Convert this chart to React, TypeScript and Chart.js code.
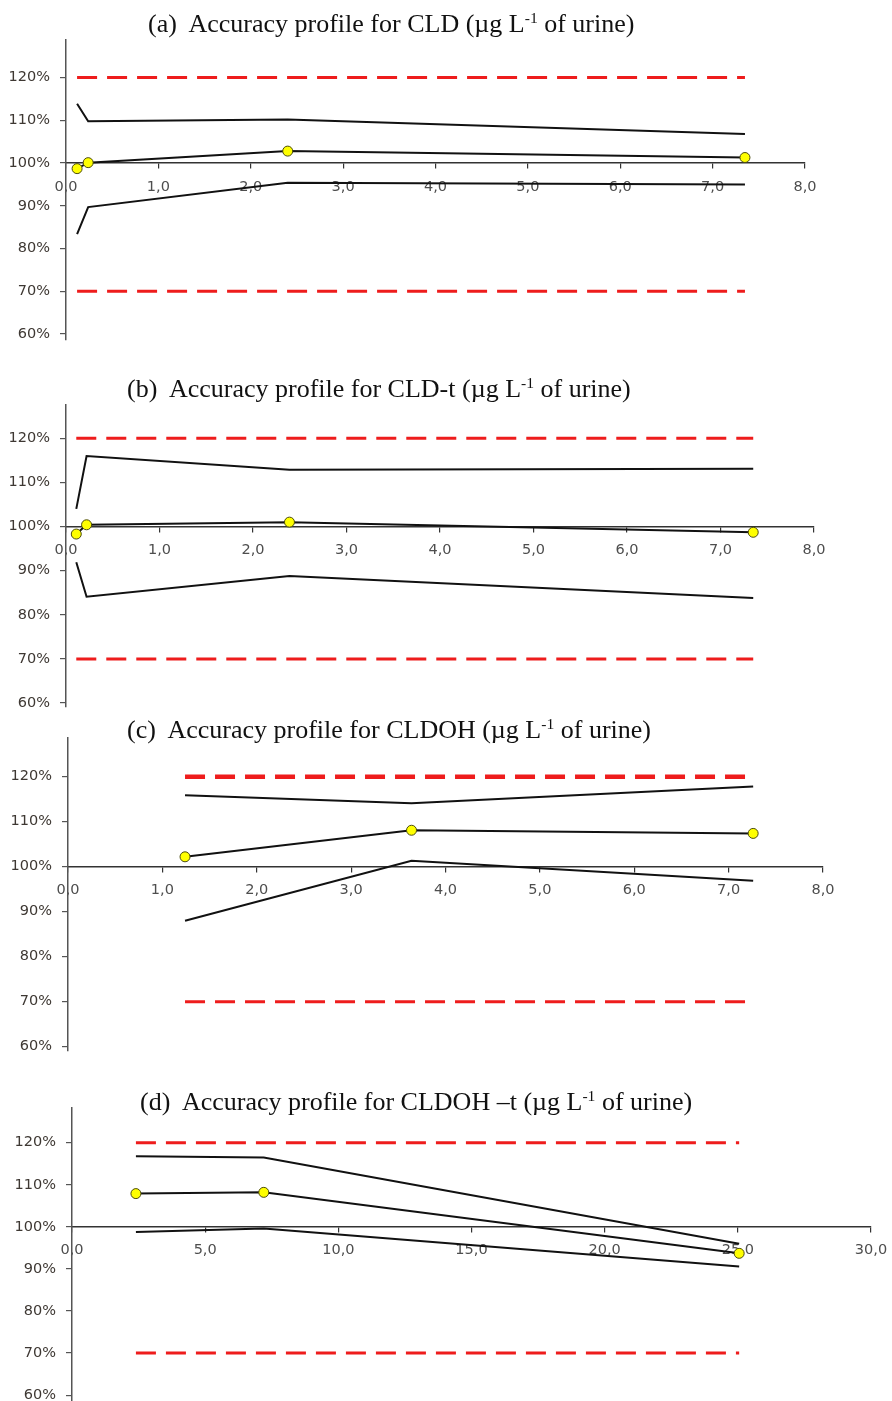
import React, { useEffect, useRef } from 'react';
import { Chart, registerables } from 'chart.js';

Chart.register(...registerables);

// ---------------- data ----------------
const Y_TICKS = [60, 70, 80, 90, 100, 110, 120];
const LIMIT_HIGH = 120;
const LIMIT_LOW = 70;

// (a) CLD
const A_NAME = 'CLD';
const A_X = [0.12, 0.24, 2.4, 7.35];
const A_UPPER = [113.9, 109.8, 110.2, 106.8];
const A_MEAN = [98.7, 100.1, 102.8, 101.3];
const A_LOWER = [83.4, 89.7, 95.4, 95.0];
const A_X_TICKS = [0, 1, 2, 3, 4, 5, 6, 7, 8];

// (b) CLD-t
const B_NAME = 'CLD-t';
const B_X = [0.11, 0.22, 2.39, 7.35];
const B_UPPER = [104.0, 116.0, 112.9, 113.1];
const B_MEAN = [98.3, 100.4, 101.0, 98.7];
const B_LOWER = [91.9, 84.1, 88.8, 83.8];
const B_X_TICKS = [0, 1, 2, 3, 4, 5, 6, 7, 8];

// (c) CLDOH
const C_NAME = 'CLDOH';
const C_X = [1.24, 3.64, 7.26];
const C_UPPER = [115.9, 114.1, 117.8];
const C_MEAN = [102.2, 108.1, 107.4];
const C_LOWER = [88.0, 101.3, 96.9];
const C_X_TICKS = [0, 1, 2, 3, 4, 5, 6, 7, 8];

// (d) CLDOH –t
const D_NAME = 'CLDOH –t';
const D_X = [2.4, 7.2, 25.05];
const D_UPPER = [116.8, 116.5, 96.0];
const D_MEAN = [107.9, 108.2, 93.7];
const D_LOWER = [98.8, 99.6, 90.6];
const D_X_TICKS = [0, 5, 10, 15, 20, 25, 30];

// ---------------- layout / style ----------------
const PAGE_W = 892;
const CANVAS_W = 940;
const PAD = 22;
const TICK_FONT = { family: '"DejaVu Sans", sans-serif', size: 14.5 };
const Y_LABEL_COLOR = '#3e3833';
const X_LABEL_COLOR = '#4e4e4e';
const AXIS_COLOR = '#333333';
const RED = '#ee1c1c';
const LINE = '#111111';

type PanelCfg = {
  tag: string;
  name: string;
  xs: number[];
  upper: number[];
  mean: number[];
  lower: number[];
  xTicks: number[];
  xMax: number;
  yMin: number;
  yMax: number;
  chartTop: number;
  chartBottom: number;
  axisLeft: number;
  axisRight: number;
  titleLeft: number;
  titleTop: number;
  highWidth: number;
};

const PANELS: PanelCfg[] = [
  {
    tag: '(a)', name: A_NAME, xs: A_X, upper: A_UPPER, mean: A_MEAN, lower: A_LOWER, xTicks: A_X_TICKS,
    xMax: 8, yMin: 58.6, yMax: 128.8, chartTop: 40, chartBottom: 340, axisLeft: 66, axisRight: 805,
    titleLeft: 148, titleTop: 11, highWidth: 3,
  },
  {
    tag: '(b)', name: B_NAME, xs: B_X, upper: B_UPPER, mean: B_MEAN, lower: B_LOWER, xTicks: B_X_TICKS,
    xMax: 8, yMin: 59.1, yMax: 127.55, chartTop: 405, chartBottom: 707, axisLeft: 66, axisRight: 814,
    titleLeft: 127, titleTop: 376, highWidth: 3,
  },
  {
    tag: '(c)', name: C_NAME, xs: C_X, upper: C_UPPER, mean: C_MEAN, lower: C_LOWER, xTicks: C_X_TICKS,
    xMax: 8, yMin: 59.05, yMax: 128.6, chartTop: 738, chartBottom: 1051, axisLeft: 68, axisRight: 823,
    titleLeft: 127, titleTop: 717, highWidth: 4.5,
  },
  {
    tag: '(d)', name: D_NAME, xs: D_X, upper: D_UPPER, mean: D_MEAN, lower: D_LOWER, xTicks: D_X_TICKS,
    xMax: 30, yMin: 58.6, yMax: 128.25, chartTop: 1108, chartBottom: 1401, axisLeft: 72, axisRight: 871,
    titleLeft: 140, titleTop: 1089, highWidth: 3,
  },
];

const pts = (xs: number[], ys: number[]) => xs.map((x, i) => ({ x, y: ys[i] }));
const limit = (xs: number[], v: number) => [
  { x: xs[0], y: v },
  { x: xs[xs.length - 1], y: v },
];

function Panel({ cfg }: { cfg: PanelCfg }) {
  const ref = useRef<HTMLCanvasElement | null>(null);
  const h = cfg.chartBottom - cfg.chartTop + 2 * PAD;

  useEffect(() => {
    if (!ref.current) return;
    const chart = new Chart(ref.current, {
      type: 'line',
      data: {
        datasets: [
          {
            data: limit(cfg.xs, LIMIT_HIGH),
            borderColor: RED,
            borderWidth: cfg.highWidth,
            borderDash: [20, 10],
            pointRadius: 0,
            borderCapStyle: 'butt',
          },
          {
            data: limit(cfg.xs, LIMIT_LOW),
            borderColor: RED,
            borderWidth: 3,
            borderDash: [20, 10],
            pointRadius: 0,
            borderCapStyle: 'butt',
          },
          {
            data: pts(cfg.xs, cfg.upper),
            borderColor: LINE,
            borderWidth: 2,
            pointRadius: 0,
          },
          {
            data: pts(cfg.xs, cfg.lower),
            borderColor: LINE,
            borderWidth: 2,
            pointRadius: 0,
          },
          {
            data: pts(cfg.xs, cfg.mean),
            borderColor: LINE,
            borderWidth: 2,
            pointRadius: 5,
            pointBackgroundColor: '#ffff00',
            pointBorderColor: '#4a4a10',
            pointBorderWidth: 1,
          },
        ],
      } as any,
      options: {
        animation: false,
        responsive: false,
        maintainAspectRatio: false,
        layout: { padding: { left: 0, right: CANVAS_W - cfg.axisRight, top: PAD, bottom: PAD } },
        plugins: { legend: { display: false }, tooltip: { enabled: false }, title: { display: false } },
        elements: { line: { tension: 0 } },
        scales: {
          x: {
            type: 'linear',
            min: 0,
            max: cfg.xMax,
            position: { y: 100 } as any,
            afterBuildTicks: (s: any) => {
              s.ticks = cfg.xTicks.map((v) => ({ value: v }));
            },
            grid: { display: true, drawOnChartArea: false, drawTicks: true, tickLength: 5, color: AXIS_COLOR, lineWidth: 1.2 },
            border: { display: true, color: AXIS_COLOR, width: 1.5 },
            ticks: {
              padding: 10,
              color: X_LABEL_COLOR,
              font: TICK_FONT,
              maxRotation: 0,
              autoSkip: false,
              callback: (v: any) => Number(v).toFixed(1).replace('.', ','),
            },
          },
          y: {
            type: 'linear',
            min: cfg.yMin,
            max: cfg.yMax,
            position: 'left',
            afterFit: (s: any) => {
              s.width = cfg.axisLeft;
            },
            afterBuildTicks: (s: any) => {
              s.ticks = Y_TICKS.map((v) => ({ value: v }));
            },
            grid: { display: true, drawOnChartArea: false, drawTicks: true, tickLength: 6, color: '#555555', lineWidth: 1.2 },
            border: { display: true, color: '#555555', width: 1.5 },
            ticks: {
              padding: 10,
              color: Y_LABEL_COLOR,
              font: TICK_FONT,
              autoSkip: false,
              callback: (v: any) => `${v}%`,
            },
          },
        },
      } as any,
    });
    return () => chart.destroy();
  }, [cfg]);

  return (
    <canvas
      ref={ref}
      width={CANVAS_W}
      height={h}
      style={{ position: 'absolute', left: 0, top: cfg.chartTop - PAD, width: CANVAS_W, height: h }}
    />
  );
}

function Title({ cfg }: { cfg: PanelCfg }) {
  return (
    <div
      style={{
        position: 'absolute',
        left: cfg.titleLeft,
        top: cfg.titleTop,
        fontFamily: '"Liberation Serif", "Times New Roman", serif',
        fontSize: 26,
        lineHeight: '26px',
        color: '#111',
        whiteSpace: 'pre',
      }}
    >
      {cfg.tag}
      {'  '}
      {`Accuracy profile for ${cfg.name} (µg L`}
      <span style={{ fontSize: '0.6em', position: 'relative', top: '-0.6em' }}>-1</span>
      {' of urine)'}
    </div>
  );
}

export default function App() {
  return (
    <div
      style={{
        position: 'absolute',
        left: 0,
        top: 0,
        width: PAGE_W,
        height: 1401,
        overflow: 'hidden',
        background: '#ffffff',
      }}
    >
      {PANELS.map((p) => (
        <Panel key={p.tag} cfg={p} />
      ))}
      {PANELS.map((p) => (
        <Title key={'t' + p.tag} cfg={p} />
      ))}
    </div>
  );
}
